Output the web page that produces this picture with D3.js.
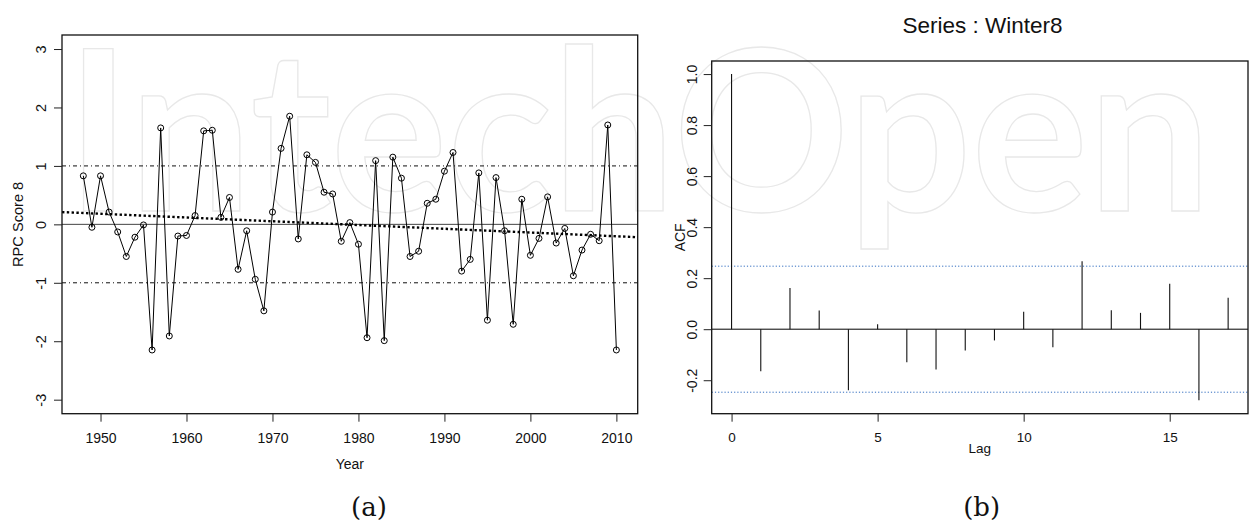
<!DOCTYPE html>
<html>
  <head>
    <meta charset="utf-8" />
    <script src="https://d3js.org/d3.v7.min.js"></script>
    <style>
      body { margin: 0; background: #ffffff; }
      text { font-family: "Liberation Sans", Arial, sans-serif; fill: #111; }
      .box { fill: none; stroke: #111; stroke-width: 1.3; }
      .series { fill: none; stroke: #000; stroke-width: 1; }
      .pt { fill: none; stroke: #000; stroke-width: 1; }
      .tick line { stroke: #222; }
      .panel { font-family: "DejaVu Serif", serif; font-size: 26px; }
    </style>
  </head>
  <body>
    <div id="chart"></div>
    <script type="text/javascript">

      var w = 1249, h = 527;

      // panel (a): RPC score 8, winter series
      var years = d3.range(1948, 2011);
      var rpcScore = [
        0.83, -0.05, 0.83, 0.21, -0.13, -0.55, -0.22, -0.01, -2.15, 1.65,
        -1.91, -0.20, -0.19, 0.15, 1.60, 1.61, 0.12, 0.46, -0.77, -0.11,
        -0.94, -1.48, 0.21, 1.30, 1.85, -0.25, 1.19, 1.06, 0.55, 0.52,
        -0.29, 0.03, -0.34, -1.94, 1.09, -1.99, 1.15, 0.79, -0.55, -0.46,
        0.36, 0.43, 0.91, 1.23, -0.80, -0.60, 0.88, -1.64, 0.80, -0.11,
        -1.71, 0.43, -0.53, -0.24, 0.47, -0.32, -0.07, -0.88, -0.44, -0.17,
        -0.28, 1.70, -2.15
      ];
      var yearTicks = [1950, 1960, 1970, 1980, 1990, 2000, 2010];
      var scoreTicks = [-3, -2, -1, 0, 1, 2, 3];
      var refLevels = [-1, 1];
      var trendYears = [1945.52, 2012.48];
      var trendValues = [0.21, -0.22];

      // panel (b): ACF of Winter8
      var lags = d3.range(0, 18);
      var acf = [
        1.0, -0.165, 0.161, 0.073, -0.239, 0.019, -0.13, -0.158, -0.083,
        -0.044, 0.068, -0.071, 0.266, 0.074, 0.064, 0.178, -0.278, 0.123
      ];
      var lagTicks = [0, 5, 10, 15];
      var acfTicks = [-0.2, 0.0, 0.2, 0.4, 0.6, 0.8, 1.0];
      var ciBound = 0.247;

      // R style labels use a plain hyphen for negatives
      var fmtInt = function(d) { return String(d); };
      var fmtOne = function(d) { return d.toFixed(1); };

      var svg = d3.select("#chart").append("svg")
        .attr("width", w).attr("height", h);

      // faint hollow watermark behind both plots
      svg.append("text")
        .attr("x", 66).attr("y", 211)
        .attr("textLength", 1145).attr("lengthAdjust", "spacingAndGlyphs")
        .style("font-family", "Lato, sans-serif").style("font-weight", 700)
        .style("font-size", "224px")
        .style("fill", "none").style("stroke", "#e8e8e8").style("stroke-width", 1.3)
        .text("IntechOpen");

      // ---------- panel (a)
      var ax0 = 62, ax1 = 637.7, ay0 = 35, ay1 = 413.7;
      var xA = d3.scaleLinear().domain([1945.52, 2012.48]).range([ax0, ax1]);
      var yA = d3.scaleLinear().domain([-3.24, 3.24]).range([ay1, ay0]);

      var gA = svg.append("g");

      gA.append("line")
        .attr("x1", ax0).attr("x2", ax1).attr("y1", yA(0)).attr("y2", yA(0))
        .style("stroke", "#444").style("stroke-width", 1);

      gA.selectAll("line.ref").data(refLevels).enter().append("line")
        .attr("class", "ref")
        .attr("x1", ax0).attr("x2", ax1)
        .attr("y1", function(d) { return yA(d); }).attr("y2", function(d) { return yA(d); })
        .style("stroke", "#111").style("stroke-width", 1)
        .style("stroke-dasharray", "4,3,1,3");

      gA.append("line")
        .attr("x1", xA(trendYears[0])).attr("x2", xA(trendYears[1]))
        .attr("y1", yA(trendValues[0])).attr("y2", yA(trendValues[1]))
        .style("stroke", "#000").style("stroke-width", 2.4)
        .style("stroke-dasharray", "2.4,2.4");

      var line = d3.line()
        .x(function(d, i) { return xA(years[i]); })
        .y(function(d) { return yA(d); });

      gA.append("path").datum(rpcScore).attr("class", "series").attr("d", line);

      gA.selectAll("circle.pt").data(rpcScore).enter().append("circle")
        .attr("class", "pt").attr("r", 3)
        .attr("cx", function(d, i) { return xA(years[i]); })
        .attr("cy", function(d) { return yA(d); });

      gA.append("rect").attr("class", "box")
        .attr("x", ax0).attr("y", ay0).attr("width", ax1 - ax0).attr("height", ay1 - ay0);

      var xAxisA = gA.append("g").attr("transform", "translate(0," + ay1 + ")")
        .call(d3.axisBottom(xA).tickValues(yearTicks).tickSize(8).tickFormat(fmtInt));
      xAxisA.select(".domain").remove();
      xAxisA.selectAll("text").attr("y", 0).attr("dy", 0)
        .attr("transform", "translate(0,29)")
        .style("font-size", "14px").style("font-family", "Liberation Sans, Arial, sans-serif");

      var yAxisA = gA.append("g").attr("transform", "translate(" + ax0 + ",0)")
        .call(d3.axisLeft(yA).tickValues(scoreTicks).tickSize(8).tickFormat(fmtInt));
      yAxisA.select(".domain").remove();
      yAxisA.selectAll("text").attr("x", 0).attr("dy", 0)
        .attr("text-anchor", "middle")
        .attr("transform", "translate(-16.5,0) rotate(-90)")
        .style("font-size", "14.5px").style("font-family", "Liberation Sans, Arial, sans-serif");

      gA.append("text")
        .attr("x", (ax0 + ax1) / 2).attr("y", 469)
        .attr("text-anchor", "middle").style("font-size", "14px")
        .text("Year");

      gA.append("text")
        .attr("transform", "translate(23.3," + (ay0 + ay1) / 2 + ") rotate(-90)")
        .attr("text-anchor", "middle").style("font-size", "14.6px")
        .text("RPC Score 8");

      svg.append("text").attr("class", "panel")
        .attr("x", 369).attr("y", 516).attr("text-anchor", "middle")
        .text("(a)");

      // ---------- panel (b)
      var bx0 = 711.7, bx1 = 1248, by0 = 61, by1 = 413.7;
      var xB = d3.scaleLinear().domain([-0.68, 17.68]).range([bx0, bx1]);
      var yB = d3.scaleLinear().domain([-0.3312, 1.0512]).range([by1, by0]);

      var gB = svg.append("g");

      gB.selectAll("line.ci").data([ciBound, -ciBound]).enter().append("line")
        .attr("class", "ci")
        .attr("x1", bx0).attr("x2", bx1)
        .attr("y1", function(d) { return yB(d); }).attr("y2", function(d) { return yB(d); })
        .style("stroke", "#2f6bbf").style("stroke-width", 1)
        .style("stroke-dasharray", "1.2,2");

      gB.append("line")
        .attr("x1", bx0).attr("x2", bx1).attr("y1", yB(0)).attr("y2", yB(0))
        .style("stroke", "#000").style("stroke-width", 1);

      gB.selectAll("line.bar").data(acf).enter().append("line")
        .attr("class", "bar")
        .attr("x1", function(d, i) { return xB(lags[i]); })
        .attr("x2", function(d, i) { return xB(lags[i]); })
        .attr("y1", yB(0))
        .attr("y2", function(d) { return yB(d); })
        .style("stroke", "#111").style("stroke-width", 1.1);

      gB.append("rect").attr("class", "box")
        .attr("x", bx0).attr("y", by0).attr("width", bx1 - bx0).attr("height", by1 - by0);

      var xAxisB = gB.append("g").attr("transform", "translate(0," + by1 + ")")
        .call(d3.axisBottom(xB).tickValues(lagTicks).tickSize(8).tickFormat(fmtInt));
      xAxisB.select(".domain").remove();
      xAxisB.selectAll("text").attr("y", 0).attr("dy", 0)
        .attr("transform", "translate(0,28)")
        .style("font-size", "13.5px").style("font-family", "Liberation Sans, Arial, sans-serif");

      var yAxisB = gB.append("g").attr("transform", "translate(" + bx0 + ",0)")
        .call(d3.axisLeft(yB).tickValues(acfTicks).tickSize(8).tickFormat(fmtOne));
      yAxisB.select(".domain").remove();
      yAxisB.selectAll("text").attr("x", 0).attr("dy", 0)
        .attr("text-anchor", "middle")
        .attr("transform", "translate(-15,0) rotate(-90)")
        .style("font-size", "14px").style("font-family", "Liberation Sans, Arial, sans-serif");

      gB.append("text")
        .attr("x", (bx0 + bx1) / 2).attr("y", 453)
        .attr("text-anchor", "middle").style("font-size", "13.5px")
        .text("Lag");

      gB.append("text")
        .attr("transform", "translate(685," + (by0 + by1) / 2 + ") rotate(-90)")
        .attr("text-anchor", "middle").style("font-size", "14px")
        .text("ACF");

      gB.append("text")
        .attr("x", 982.5).attr("y", 33)
        .attr("text-anchor", "middle").style("font-size", "22.5px")
        .text("Series : Winter8");

      svg.append("text").attr("class", "panel")
        .attr("x", 981.7).attr("y", 516).attr("text-anchor", "middle")
        .text("(b)");

    </script>
  </body>
</html>
